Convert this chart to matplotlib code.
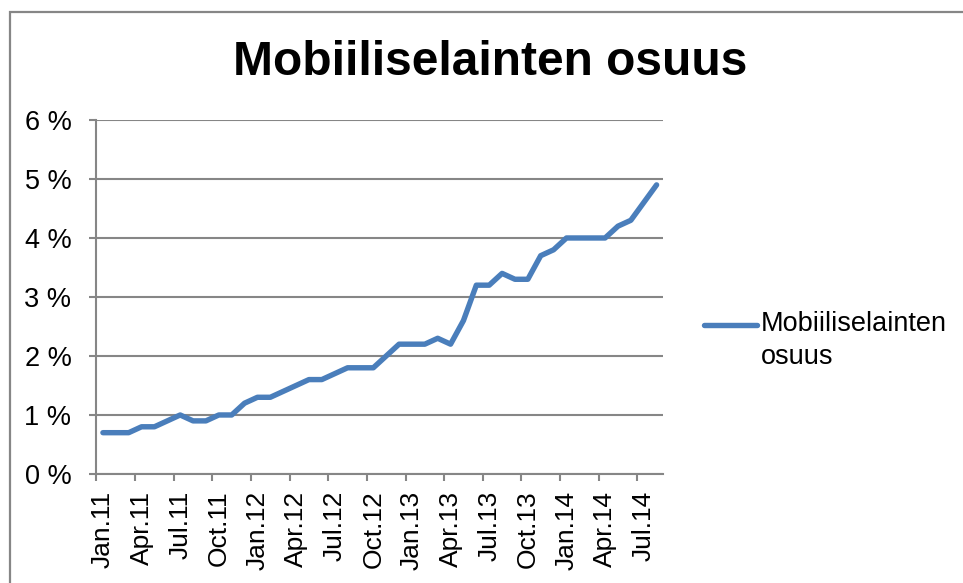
import matplotlib
matplotlib.use('Agg')
import matplotlib.pyplot as plt
from matplotlib.patches import Rectangle
from matplotlib.lines import Line2D
from matplotlib.ticker import FixedLocator

plt.rcParams['font.family'] = ['Liberation Sans', 'DejaVu Sans']

# monthly share, Jan.11 .. Aug.14 (%)
share = [0.7, 0.7, 0.7, 0.8, 0.8, 0.9, 1.0, 0.9, 0.9, 1.0, 1.0, 1.2,
         1.3, 1.3, 1.4, 1.5, 1.6, 1.6, 1.7, 1.8, 1.8, 1.8, 2.0, 2.2,
         2.2, 2.2, 2.3, 2.2, 2.6, 3.2, 3.2, 3.4, 3.3, 3.3, 3.7, 3.8,
         4.0, 4.0, 4.0, 4.0, 4.2, 4.3, 4.6, 4.9]
months = ['Jan', 'Feb', 'Mar', 'Apr', 'May', 'Jun',
          'Jul', 'Aug', 'Sep', 'Oct', 'Nov', 'Dec']
categories = ['%s.%d' % (months[i % 12], 11 + i // 12) for i in range(len(share))]
yticks = [0, 1, 2, 3, 4, 5, 6]
ylabels = ['%d %%' % v for v in yticks]
series_name = 'Mobiiliselainten\nosuus'

grey = '#868686'
blue = '#4a7ebb'

fig = plt.figure(figsize=(9.63, 5.83), dpi=100)
ax = fig.add_axes([0.1002, 0.187, 0.5883, 0.6072])

x = list(range(len(share)))
ax.plot(x, share, color=blue, lw=3.9, solid_capstyle='round',
        solid_joinstyle='round')

ax.set_xlim(-0.5, len(share) - 0.5)
ax.set_ylim(0, 6)
ax.set_yticks(yticks)
ax.set_yticklabels(ylabels, fontsize=19.5)
ax.yaxis.grid(True, color=grey, lw=1.5)
ax.set_axisbelow(True)

# tick marks between categories, labels on every 3rd category
ax.xaxis.set_major_locator(FixedLocator([i - 0.5 for i in range(0, len(share), 3)]))
ax.xaxis.set_major_formatter(plt.NullFormatter())
ax.xaxis.set_minor_locator(FixedLocator(list(range(0, len(share), 3))))
ax.set_xticklabels([categories[i] for i in range(0, len(share), 3)],
                   minor=True, rotation=90, fontsize=19)
ax.tick_params(axis='x', which='major', length=5, width=1.5, color=grey)
ax.tick_params(axis='x', which='minor', length=0, pad=12)
ax.tick_params(axis='y', length=5, width=1.5, color=grey, pad=13)

for s in ['top', 'right']:
    ax.spines[s].set_visible(False)
for s in ['left', 'bottom']:
    ax.spines[s].set_color(grey)
    ax.spines[s].set_linewidth(1.5)

fig.text(0.509, 0.893, 'Mobiiliselainten osuus', fontsize=34.5,
         fontweight='bold', ha='center', va='center')

# legend: line next to the first text line, as in the original
fig.add_artist(Line2D([704 / 963, 757 / 963], [1 - 325 / 583, 1 - 325 / 583],
                      transform=fig.transFigure, color=blue, lw=3.9,
                      solid_capstyle='round'))
fig.text(761 / 963, 1 - 311 / 583, series_name, fontsize=19.5,
         ha='left', va='top', linespacing=1.35)

fig.patches.append(Rectangle((10 / 963, -0.05), 1.0, 0.05 + 1 - 12 / 583,
                             transform=fig.transFigure, fill=False,
                             edgecolor=grey, lw=1.6))

fig.savefig('out.png', dpi=100)
